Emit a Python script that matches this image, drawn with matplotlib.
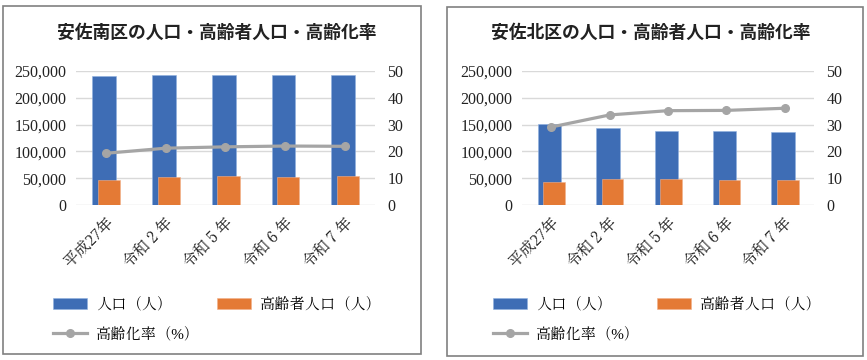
import matplotlib
matplotlib.use('Agg')
import numpy as np
from matplotlib import pyplot as plt
from matplotlib.patches import Rectangle
from matplotlib.ticker import FuncFormatter

plt.rcParams['font.family'] = ['Liberation Serif', 'Tinos', 'Shippori Mincho',
                               'Noto Serif SC', 'Noto Sans CJK JP']

categories = ['平成27年', '令和２年', '令和５年', '令和６年', '令和７年']

minami_pop = [240500, 243000, 243000, 243000, 243000]
minami_old = [46800, 51800, 53500, 53000, 53500]
minami_rate = [19.3, 21.2, 21.7, 22.0, 21.9]

kita_pop = [150500, 144200, 138600, 138600, 135600]
kita_old = [42300, 47900, 48000, 47300, 46600]
kita_rate = [29.1, 33.6, 35.2, 35.3, 36.1]

titles = ['安佐南区の人口・高齢者人口・高齢化率', '安佐北区の人口・高齢者人口・高齢化率']
labels = ['人口（人）', '高齢者人口（人）', '高齢化率（%）']

blue = '#3e6db5'
orange = '#e47a35'
gray = '#a5a5a5'
grid = '#d9d9d9'

fig = plt.figure(figsize=(8.67, 3.6), dpi=100)


def panel(rect, pop, old, rate, title, title_x, leg_x, frame):
    ax = fig.add_axes(rect)
    x = np.arange(len(categories))
    b1 = ax.bar(x - 0.03, pop, width=0.4, color=blue, edgecolor='#8fb0e0', linewidth=0.4, zorder=2)
    b2 = ax.bar(x + 0.05, old, width=0.37, color=orange, edgecolor='#f2b08a', linewidth=0.4, zorder=3)
    ax.set_xlim(-0.5, len(categories) - 0.5)
    ax.set_ylim(0, 250000)
    ax.set_yticks(np.arange(0, 250001, 50000))
    ax.yaxis.set_major_formatter(FuncFormatter(lambda v, p: '{:,.0f}'.format(v)))
    ax.grid(axis='y', color=grid, linewidth=1)
    ax.set_axisbelow(True)
    for s in ax.spines.values():
        s.set_visible(False)
    ax.tick_params(length=0, labelsize=11.5, pad=7, colors='#222222')
    ax.set_xticks(x)
    ax.set_xticklabels(categories, rotation=45, ha='right', va='top',
                       rotation_mode='anchor', fontsize=11.5)

    ax2 = ax.twinx()
    l1, = ax2.plot(x, rate, color=gray, linewidth=2.3, marker='o', markersize=5.5, zorder=4)
    ax2.set_ylim(0, 50)
    ax2.set_yticks(np.arange(0, 51, 10))
    for s in ax2.spines.values():
        s.set_visible(False)
    ax2.tick_params(length=0, labelsize=11.5, pad=9, colors='#222222')

    fig.text(title_x, 0.908, title, ha='center', va='center', fontsize=12.8,
             fontweight='bold', family=['Noto Sans CJK JP'], color='#222222')

    fig.legend([b1, l1, b2], [labels[0], labels[2], labels[1]], ncol=2,
               loc='upper left', bbox_to_anchor=(leg_x, 0.175), frameon=False,
               borderpad=0, borderaxespad=0, fontsize=11, handlelength=2.2,
               handletextpad=0.6, columnspacing=1.15, labelspacing=0.95)

    fig.patches.append(Rectangle((frame[0], frame[1]), frame[2], frame[3],
                                 transform=fig.transFigure, fill=False,
                                 edgecolor='#808080', linewidth=1.2))


panel([76 / 867, 155 / 360, 299 / 867, 134 / 360], minami_pop, minami_old, minami_rate,
      titles[0], 0.250, 53 / 867, (3 / 867, 6 / 360, 418 / 867, 348 / 360))
panel([522 / 867, 155 / 360, 292 / 867, 134 / 360], kita_pop, kita_old, kita_rate,
      titles[1], 0.751, 493 / 867, (447 / 867, 4 / 360, 416 / 867, 349 / 360))

plt.savefig('out.png', dpi=100)
